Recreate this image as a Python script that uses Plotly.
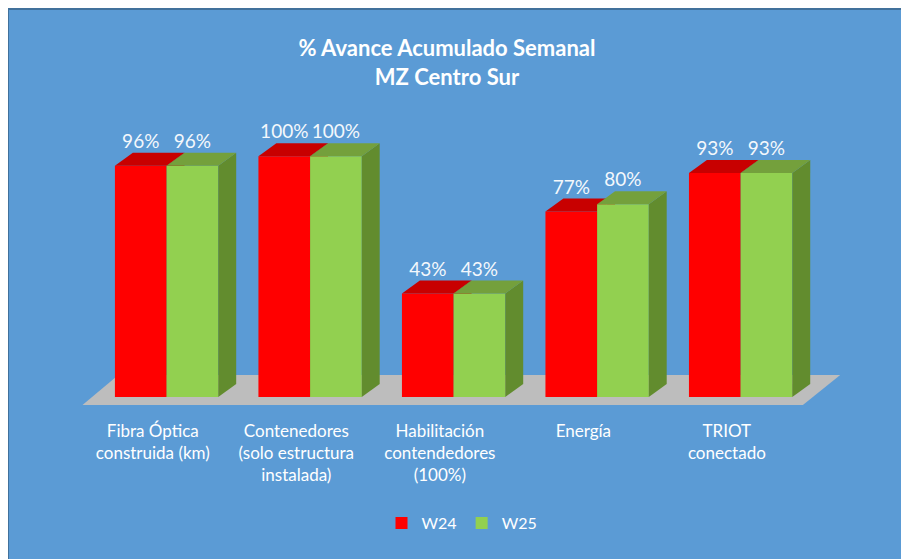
import plotly.graph_objects as go

# ---------------- data ----------------
categories = [
    "Fibra Óptica<br>construida (km)",
    "Contenedores<br>(solo estructura<br>instalada)",
    "Habilitación<br>contendedores<br>(100%)",
    "Energía",
    "TRIOT<br>conectado",
]
w24 = [96, 100, 43, 77, 93]
w25 = [96, 100, 43, 80, 93]
series_names = ["W24", "W25"]
title_text = "<b>% Avance Acumulado Semanal<br>MZ Centro Sur</b>"

# ---------------- geometry / styling ----------------
W, H = 909, 559
OX, OY = 8, 8          # page body margin
ML, MR, MT, MB = 30, 61, 88, 158
XR = [-0.8, 4.9]
YR = [-5, 125]
BW = 0.36      # bar width (category units)
OFF = 0.096    # shift of the bar pair from the tick
DX = 0.125     # 3D depth, x
DY = 5.4       # 3D depth, y (value units)
FONT = "Lato"
BLUE = "#5B9BD5"
RED, RED_TOP, RED_SIDE = "#FF0000", "#C80000", "#B00000"
GRN, GRN_TOP, GRN_SIDE = "#92D050", "#74A03C", "#628C2E"


def px_x(p):  # screen pixel -> paper x
    return (p - OX - ML) / (W - ML - MR)


def px_y(p):  # screen pixel -> paper y
    return (H - MB - (p - OY)) / (H - MT - MB)


fig = go.Figure()
n = len(categories)
idx = list(range(n))


def faces(centers, vals, top_col, side_col, xa, ya):
    for c, v in zip(centers, vals):
        x0, x1 = c - BW / 2, c + BW / 2
        fig.add_trace(go.Scatter(
            x=[x1, x1 + DX, x1 + DX, x1, x1], y=[0, DY, v + DY, v, 0],
            fill="toself", fillcolor=side_col, mode="lines", line=dict(width=0),
            showlegend=False, hoverinfo="skip", xaxis=xa, yaxis=ya))
        fig.add_trace(go.Scatter(
            x=[x0, x1, x1 + DX, x0 + DX, x0], y=[v, v, v + DY, v + DY, v],
            fill="toself", fillcolor=top_col, mode="lines", line=dict(width=0),
            showlegend=False, hoverinfo="skip", xaxis=xa, yaxis=ya))


red_c = [i + OFF - BW / 2 for i in idx]
grn_c = [i + OFF + BW / 2 for i in idx]

# layer A : W24
fig.add_trace(go.Bar(x=red_c, y=w24, width=BW, name=series_names[0],
                     marker=dict(color=RED, line=dict(width=0)),
                     xaxis="x", yaxis="y"))
faces(red_c, w24, RED_TOP, RED_SIDE, "x", "y")

# layer B : W25 (overlay, drawn above)
fig.add_trace(go.Bar(x=grn_c, y=w25, width=BW, name=series_names[1],
                     marker=dict(color=GRN, line=dict(width=0)),
                     xaxis="x2", yaxis="y2"))
faces(grn_c, w25, GRN_TOP, GRN_SIDE, "x2", "y2")

# data labels
fig.add_trace(go.Scatter(
    x=red_c + grn_c, y=[v + 9.4 for v in w24 + w25],
    text=[f"{v}%" for v in w24 + w25], mode="text", textposition="middle center",
    textfont=dict(family=FONT, size=19, color="#F4F8FC"),
    showlegend=False, hoverinfo="skip", xaxis="x2", yaxis="y2"))

# ---------------- layout ----------------
shapes = [
    dict(type="rect", xref="paper", yref="paper", layer="below",
         x0=px_x(OX), x1=px_x(930), y0=px_y(OY + 1), y1=px_y(580),
         fillcolor=BLUE, line=dict(color="#41719C", width=2)),
    dict(type="path", xref="x", yref="y", layer="below",
         path=f"M -0.49,-3.3 L {n - 1 + 0.53},-3.3 L {n - 1 + 0.79},9.1 L -0.24,9.1 Z",
         fillcolor="#BDBDBD", line=dict(width=0)),
]

axis_common = dict(showgrid=False, zeroline=False, showline=False, fixedrange=True)
fig.update_layout(
    width=W, height=H,
    margin=dict(l=ML, r=MR, t=MT, b=MB, pad=0),
    paper_bgcolor="white", plot_bgcolor="rgba(0,0,0,0)",
    barmode="overlay",
    title=dict(text=title_text, x=0.5, xref="paper", xanchor="center",
               y=1 - (56 - OY) / H, yref="container", yanchor="middle",
               font=dict(family=FONT, size=22, color="white")),
    xaxis=dict(range=XR, tickmode="array", tickvals=idx, ticktext=categories,
               tickfont=dict(family=FONT, size=17, color="white"),
               ticks="", ticklabelstandoff=10, **axis_common),
    yaxis=dict(range=YR, visible=False, **axis_common),
    xaxis2=dict(range=XR, overlaying="x", visible=False, **axis_common),
    yaxis2=dict(range=YR, overlaying="y", visible=False, **axis_common),
    legend=dict(orientation="h", x=px_x(462), xanchor="center",
                y=px_y(523), yanchor="middle", bgcolor="rgba(0,0,0,0)",
                font=dict(family=FONT, size=16, color="white"),
                traceorder="normal"),
    shapes=shapes,
    showlegend=True,
)

fig.write_html("out.html")
